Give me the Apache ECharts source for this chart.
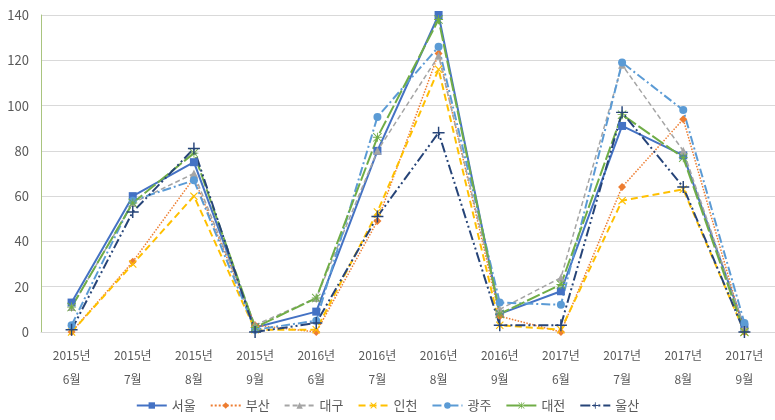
<!DOCTYPE html>
<html>
<head>
<meta charset="utf-8">
<script src="https://cdn.jsdelivr.net/npm/echarts@6/dist/echarts.min.js"></script>
<style>
  html, body { margin: 0; padding: 0; background: #ffffff; }
  #chart { width: 775px; height: 420px; }
</style>
</head>
<body>
<div id="chart"></div>
<script>
// Monthly figures (June–September) for seven cities, 2015–2017
const categories = [
  '2015년\n6월', '2015년\n7월', '2015년\n8월', '2015년\n9월',
  '2016년\n6월', '2016년\n7월', '2016년\n8월', '2016년\n9월',
  '2017년\n6월', '2017년\n7월', '2017년\n8월', '2017년\n9월'
];

const seoul   = [13, 60, 75, 2,  9,  80, 140,  8, 18,  91, 78, 2];
const busan   = [0,  31, 68, 3,  0,  49, 123,  7,  0,  64, 94, 0];
const daegu   = [11, 57, 70, 3,  15, 80, 122, 10, 24, 118, 80, 2];
const incheon = [0,  30, 60, 1,  1,  53, 116,  3,  1,  58, 63, 0];
const gwangju = [3,  58, 67, 1,  5,  95, 126, 13, 12, 119, 98, 4];
const daejeon = [11, 57, 79, 2,  15, 86, 138,  8, 21,  96, 77, 0];
const ulsan   = [1,  53, 81, 0,  4,  51,  88,  3,  3,  97, 64, 0];

const yTicks = { min: 0, max: 140, step: 20 };

// marker shapes drawn as filled outlines in a 10x10 box
const PLUS = 'path://M4.4,0H5.6V10H4.4Z M0,4.4H10V5.6H0Z';
const CROSS = 'path://M0,1L1,0L5,4L9,0L10,1L6,5L10,9L9,10L5,6L1,10L0,9L4,5Z';
const ASTER = 'path://M4.5,0H5.5V10H4.5Z M0,4.5H10V5.5H0Z M0.7,0L10,9.3L9.3,10L0,0.7Z M9.3,0L10,0.7L0.7,10L0,9.3Z';

const FONT = '"Noto Sans CJK KR", "Noto Sans", sans-serif';

function line(name, data, color, dash, symbol, size, width) {
  return {
    name: name,
    type: 'line',
    data: data,
    symbol: symbol,
    symbolSize: size,
    showAllSymbol: true,
    color: color,
    itemStyle: { color: color },
    lineStyle: { color: color, width: width || 2, type: dash },
    emphasis: { disabled: true },
    z: 2
  };
}

const chart = echarts.init(document.getElementById('chart'), null, { renderer: 'canvas' });

chart.setOption({
  animation: false,
  backgroundColor: '#ffffff',
  textStyle: { fontFamily: FONT },
  grid: { left: 41, top: 15, width: 738, bottom: 88, containLabel: false },
  legend: {
    bottom: 3,
    left: 'center',
    itemWidth: 30,
    itemHeight: 8,
    itemGap: 14,
    textStyle: { fontFamily: FONT, fontSize: 13, color: '#595959' },
    data: ['서울', '부산', '대구', '인천', '광주', '대전', '울산']
  },
  xAxis: {
    type: 'category',
    data: categories,
    boundaryGap: true,
    axisLine: { show: true, lineStyle: { color: '#d9d9d9', width: 1 } },
    axisTick: { show: false },
    axisLabel: {
      interval: 0,
      margin: 11,
      fontSize: 12,
      lineHeight: 24,
      color: '#595959',
      fontFamily: FONT
    },
    splitLine: { show: false }
  },
  yAxis: {
    type: 'value',
    min: yTicks.min,
    max: yTicks.max,
    interval: yTicks.step,
    axisLine: { show: true, lineStyle: { color: '#a9c47f', width: 1 } },
    axisTick: { show: false },
    axisLabel: { margin: 12, fontSize: 13, color: '#595959', fontFamily: FONT },
    splitLine: { show: true, lineStyle: { color: '#d9d9d9', width: 1 } }
  },
  series: [
    line('서울', seoul,   '#4472C4', 'solid',               'rect',     8, 2),
    line('부산', busan,   '#ED7D31', 'dotted',              'diamond',  8, 1.5),
    line('대구', daegu,   '#A5A5A5', [5, 3],                'triangle', 8, 1.5),
    line('인천', incheon, '#FFC000', [7, 4],                CROSS,      8, 2),
    line('광주', gwangju, '#5B9BD5', [9, 3, 2, 3],          'circle',   8, 2),
    line('대전', daejeon, '#70AD47', [14, 3],               ASTER,      9, 2),
    line('울산', ulsan,   '#264478', [10, 3, 2, 3, 2, 3],   PLUS,      12, 2)
  ]
});
</script>
</body>
</html>
